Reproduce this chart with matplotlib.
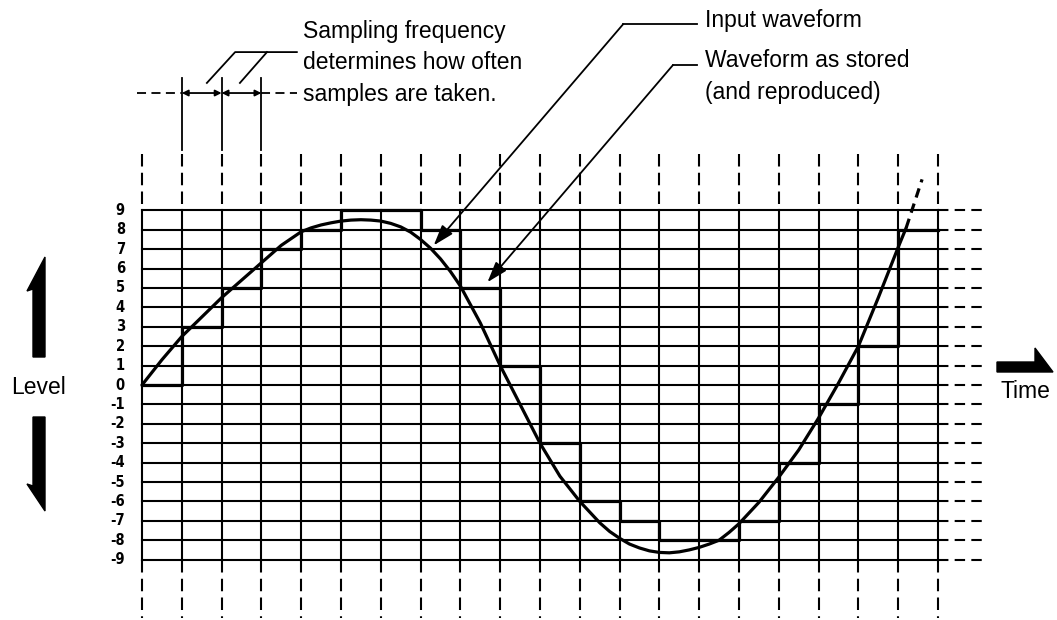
import matplotlib.pyplot as plt
from matplotlib.patches import Polygon

# quantisation levels and sample instants
levels = list(range(-9, 10))
sample_times = list(range(0, 21))

# value held after each sample (sample-and-hold, read from the staircase)
stored_levels = [0, 3, 5, 7, 8, 9, 9, 8, 5, 1, -3, -6, -7, -8, -8, -7, -4, -1, 2, 8]

# input waveform (denser around peak and trough)
input_t = [0, 0.5, 1, 1.5, 2, 2.5, 3, 3.5, 4, 4.25, 4.5, 4.75, 5, 5.25, 5.5,
           5.75, 6, 6.25, 6.5, 6.75, 7, 7.25, 7.5, 7.75, 8, 8.5, 9, 9.5, 10,
           10.5, 11, 11.5, 11.75, 12, 12.25, 12.5, 12.75, 13, 13.25, 13.5,
           13.75, 14, 14.25, 14.5, 14.75, 15, 15.5, 16, 16.5, 17, 17.5, 18,
           18.5, 19, 19.2]
input_level = [0, 1.3, 2.5, 3.5, 4.5, 5.4, 6.3, 7.2, 7.9, 8.1, 8.25, 8.36,
               8.45, 8.5, 8.52, 8.5, 8.45, 8.33, 8.15, 7.88, 7.5, 7.05, 6.5,
               5.85, 5.1, 3.2, 1.0, -1.0, -3.0, -4.7, -6.0, -7.1, -7.55, -7.9,
               -8.2, -8.4, -8.55, -8.63, -8.65, -8.6, -8.5, -8.37, -8.2, -8.0,
               -7.6, -7.15, -6.05, -4.75, -3.35, -1.7, 0.1, 2.0, 4.5, 7.1, 8.1]
# dashed continuation past the last sample
extension_t = [19.2, 19.6]
extension_level = [8.1, 10.6]

LW = 1.5
FS = 16.5
TEXT_FONT = ['Liberation Sans', 'DejaVu Sans']

fig = plt.figure(figsize=(10.57, 6.2), dpi=100)
ax = fig.add_axes([0, 0, 1, 1])
ax.set_xlim(-3.568, 22.99)
ax.set_ylim(-12.113, 19.845)
ax.axis('off')

# grid: vertical sample lines
for t in sample_times:
    ax.plot([t, t], [-9, 9], color='black', lw=LW)
    ax.plot([t, t], [11.9, 9], color='black', lw=LW, dashes=(6, 3))
    ax.plot([t, t], [-9, -12.0], color='black', lw=LW, dashes=(6, 3))

# grid: horizontal level lines + labels
for lv in levels:
    ax.plot([0, 20], [lv, lv], color='black', lw=LW)
    ax.plot([20, 21.1], [lv, lv], color='black', lw=LW, dashes=(5, 3))
    ax.text(-0.43, lv, str(lv), ha='right', va='center', fontsize=10.5,
            fontweight='bold', fontstretch='condensed',
            family=['Liberation Sans Narrow', 'DejaVu Sans'])

# stored waveform (staircase) and input waveform
ax.step(sample_times, stored_levels + [stored_levels[-1]], where='post',
        color='black', lw=2.3)
ax.plot(input_t, input_level, color='black', lw=2.3, solid_capstyle='round',
        solid_joinstyle='round')
ax.plot(extension_t, extension_level, color='black', lw=2.3, dashes=(3, 2))

# sampling interval annotation
y_s = 15.05
for t in sample_times[1:4]:
    ax.plot([t, t], [12.1, 15.8], color='black', lw=1.3)
ax.plot([-0.13, 1], [y_s, y_s], color='black', lw=1.3, dashes=(5, 3))
ax.plot([3, 3.9], [y_s, y_s], color='black', lw=1.3, dashes=(5, 3))
for a, b in [(1, 2), (2, 3)]:
    ax.annotate('', xy=(b, y_s), xytext=(a, y_s),
                arrowprops=dict(arrowstyle='<|-|>', color='black', lw=1.3,
                                shrinkA=0, shrinkB=0, mutation_scale=9))
ax.plot([1.63, 2.34, 3.89], [15.57, 17.16, 17.16], color='black', lw=1.3)
ax.plot([2.46, 3.14], [15.57, 17.16], color='black', lw=1.3)
ax.text(4.05, 16.62, 'Sampling frequency\ndetermines how often\nsamples are taken.',
        ha='left', va='center', fontsize=FS, linespacing=1.47, family=TEXT_FONT)

# leader arrows
arrow_kw = dict(arrowstyle='-|>,head_length=0.9,head_width=0.3', color='black',
                lw=1.3, shrinkA=0, shrinkB=0, mutation_scale=14)
ax.plot([12.09, 13.95], [18.6, 18.6], color='black', lw=1.3)
ax.annotate('', xy=(7.33, 7.2), xytext=(12.09, 18.6), arrowprops=arrow_kw)
ax.text(14.15, 18.81, 'Input waveform', ha='left', va='center', fontsize=FS,
        family=TEXT_FONT)
ax.plot([13.34, 13.95], [16.49, 16.49], color='black', lw=1.3)
ax.annotate('', xy=(8.68, 5.3), xytext=(13.34, 16.49), arrowprops=arrow_kw)
ax.text(14.15, 15.9, 'Waveform as stored\n(and reproduced)', ha='left',
        va='center', fontsize=FS, linespacing=1.47, family=TEXT_FONT)

# axis captions
ax.text(-2.59, -0.15, 'Level', ha='center', va='center', fontsize=FS,
        family=TEXT_FONT)
ax.text(21.56, -0.36, 'Time', ha='left', va='center', fontsize=FS,
        family=TEXT_FONT)

# half-headed block arrows, drawn in pixel space
deco = fig.add_axes([0, 0, 1, 1])
deco.set_xlim(0, 1057)
deco.set_ylim(620, 0)
deco.axis('off')
deco.patch.set_alpha(0)
up = [(45, 357), (45, 257), (27, 291), (33, 289), (33, 357)]
down = [(33, 417), (45, 417), (45, 511), (27, 484), (33, 486)]
right = [(997, 362), (1035, 362), (1035, 348), (1053, 372), (997, 372)]
for pts in (up, down, right):
    deco.add_patch(Polygon(pts, closed=True, color='black'))

fig.savefig('out.png', dpi=100)
